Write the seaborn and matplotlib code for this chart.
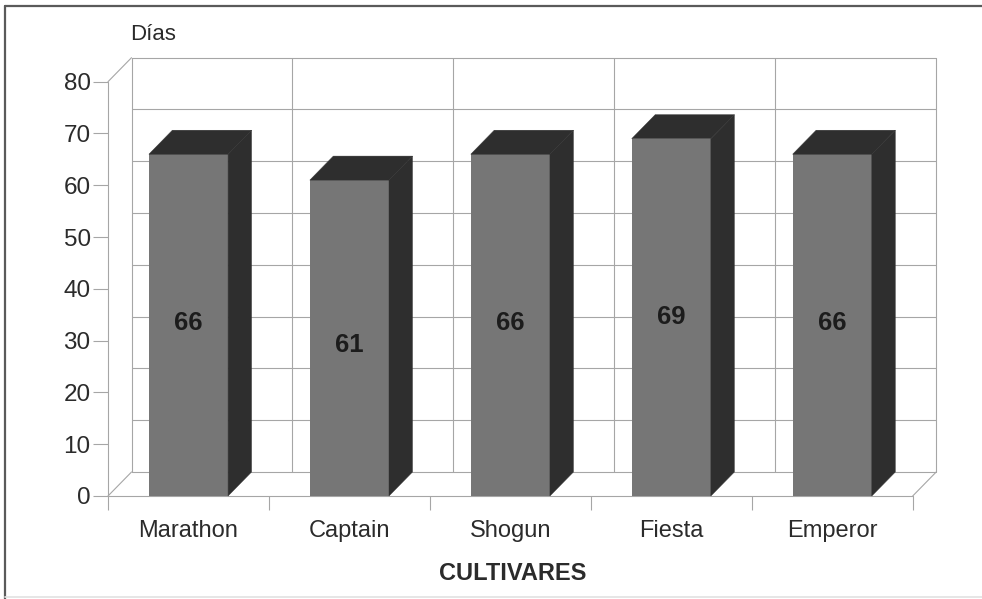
import matplotlib
matplotlib.use("Agg")
import matplotlib.pyplot as plt
import pandas as pd
import seaborn as sns
from matplotlib.lines import Line2D
from matplotlib.patches import Polygon

# Data
cultivares = ["Marathon", "Captain", "Shogun", "Fiesta", "Emperor"]
dias = [66, 61, 66, 69, 66]
y_ticks = [0, 10, 20, 30, 40, 50, 60, 70, 80]

# where the numbers sit inside the bars (they are not quite centred)
label_heights = [33.4, 29.1, 33.4, 34.5, 33.4]

W, H = 982, 599
FRONT = "#767676"
DARK = "#2e2e2e"
GRID = "#a6a6a6"
TEXT = "#2b2b2b"

sns.set_theme(style="white")
plt.rcParams["font.family"] = ["Liberation Sans", "DejaVu Sans"]

df = pd.DataFrame({"cultivar": cultivares, "dias": dias})

fig = plt.figure(figsize=(W / 100, H / 100), dpi=100)
# axes box = front plane of the fake 3D chart, in pixels
left, right, bottom, top = 108, 912.7, 496, 81.7
ax = fig.add_axes([left / W, 1 - bottom / H, (right - left) / W, (bottom - top) / H])

sns.barplot(data=df, x="cultivar", y="dias", color=FRONT, saturation=1, width=0.492,
            linewidth=0, zorder=3, ax=ax)
ax.set_xlim(-0.5, 4.5)
ax.set_ylim(0, 80)

# depth offset in data units
dx = 23.5 / ((right - left) / 5)
dy = 24 / ((bottom - top) / 80)

# back wall grid
for v in y_ticks:
    ax.plot([-0.5 + dx, 4.5 + dx], [v + dy, v + dy], color=GRID, lw=0.8, zorder=1, clip_on=False)
for i in range(6):
    x = i - 0.5 + dx
    ax.plot([x, x], [dy, 80 + dy], color=GRID, lw=0.8, zorder=1, clip_on=False)

# side wall and floor
ax.plot([-0.5, -0.5 + dx], [80, 80 + dy], color=GRID, lw=0.8, zorder=1, clip_on=False)
ax.plot([-0.5, -0.5 + dx], [0, dy], color=GRID, lw=0.8, zorder=1, clip_on=False)
ax.plot([4.5, 4.5 + dx], [0, dy], color=GRID, lw=0.8, zorder=1, clip_on=False)
ax.plot([-0.5, -0.5], [0, 80], color=GRID, lw=0.8, zorder=1, clip_on=False)
ax.plot([-0.5, 4.5], [0, 0], color=GRID, lw=0.8, zorder=1, clip_on=False)

# top and side faces of the bars
for bar in ax.patches[:len(dias)]:
    x0, x1 = bar.get_x(), bar.get_x() + bar.get_width()
    h = bar.get_height()
    ax.add_patch(Polygon([(x0, h), (x1, h), (x1 + dx, h + dy), (x0 + dx, h + dy)],
                         closed=True, fc=DARK, ec=DARK, lw=0.3, zorder=3, clip_on=False))
    ax.add_patch(Polygon([(x1, 0), (x1 + dx, dy), (x1 + dx, h + dy), (x1, h)],
                         closed=True, fc=DARK, ec=DARK, lw=0.3, zorder=3, clip_on=False))

for i, v in enumerate(dias):
    ax.text(i, label_heights[i], str(v), ha="center", va="center", fontsize=18.5,
            fontweight="bold", color="#1c1c1c", zorder=5)

sns.despine(ax=ax, left=True, bottom=True, top=True, right=True)
ax.set_yticks(y_ticks)
ax.set_xticks([i - 0.5 for i in range(6)], minor=True)
ax.tick_params(axis="y", which="major", left=True, length=11, width=0.8, color=GRID,
               labelsize=17.5, labelcolor=TEXT, pad=1.5)
ax.tick_params(axis="x", which="major", bottom=False, length=0, labelsize=17,
               labelcolor=TEXT, pad=17.5)
ax.tick_params(axis="x", which="minor", bottom=True, length=10, width=0.8, color=GRID)

ax.set_ylabel("")
ax.set_xlabel("CULTIVARES", fontsize=17, fontweight="bold", color=TEXT)
ax.xaxis.set_label_coords((513 - left) / (right - left), -(573 - bottom) / (bottom - top))
ax.xaxis.label.set_va("center")

fig.text(130 / W, 1 - 35 / H, "Días", fontsize=16, color=TEXT, ha="left", va="center")

# frame of the scanned figure
fig.add_artist(Line2D([5 / W, 1], [1 - 6 / H, 1 - 6 / H], color="#5a5a5a", lw=1.6))
fig.add_artist(Line2D([5 / W, 5 / W], [0, 1 - 6 / H], color="#5a5a5a", lw=1.6))
fig.add_artist(Line2D([5 / W, 1], [1 - 597 / H, 1 - 597 / H], color="#e2e2e2", lw=1.2))

fig.savefig("out.png", dpi=100)
